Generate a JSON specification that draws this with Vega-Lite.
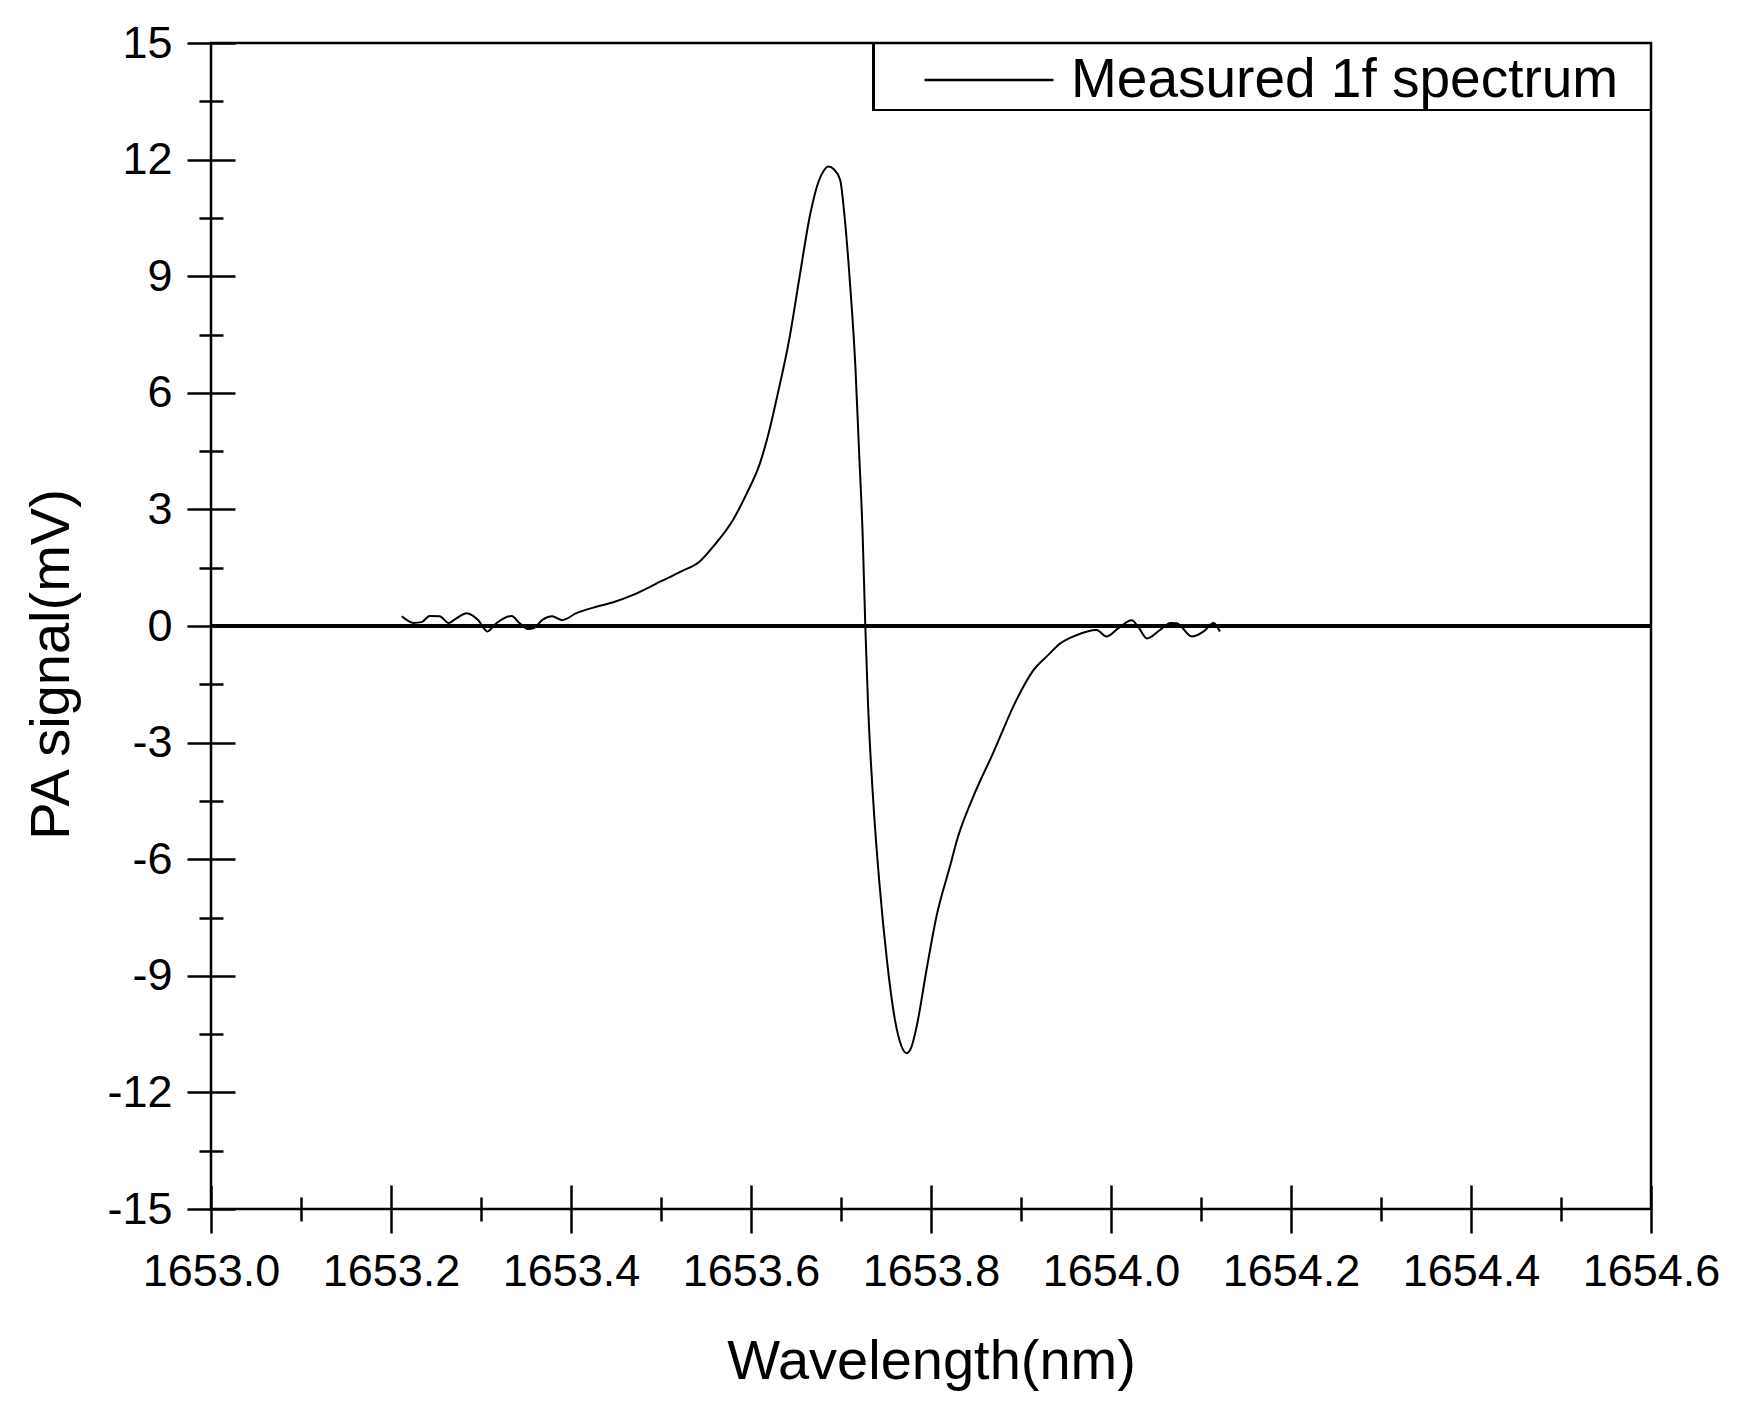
{
  "$schema": "https://vega.github.io/schema/vega-lite/v6.json",
  "width": 1440,
  "height": 1166,
  "autosize": {"type": "none"},
  "padding": {"left": 211, "top": 43, "right": 90, "bottom": 215},
  "background": "white",
  "config": {
    "view": {"stroke": "black", "strokeWidth": 2.5},
    "font": "Liberation Sans",
    "axis": {"grid": false, "labelColor": "black", "titleColor": "black", "tickColor": "black", "domainColor": "black"}
  },
  "data": {
    "values": [
      {"wavelength": 1653.212, "signal": 0.25},
      {"wavelength": 1653.225, "signal": 0.08},
      {"wavelength": 1653.234, "signal": 0.10},
      {"wavelength": 1653.243, "signal": 0.26},
      {"wavelength": 1653.254, "signal": 0.25},
      {"wavelength": 1653.264, "signal": 0.08},
      {"wavelength": 1653.271, "signal": 0.17},
      {"wavelength": 1653.284, "signal": 0.33},
      {"wavelength": 1653.297, "signal": 0.15},
      {"wavelength": 1653.307, "signal": -0.14},
      {"wavelength": 1653.317, "signal": 0.07},
      {"wavelength": 1653.334, "signal": 0.26},
      {"wavelength": 1653.343, "signal": 0.07},
      {"wavelength": 1653.353, "signal": -0.08},
      {"wavelength": 1653.358, "signal": -0.06},
      {"wavelength": 1653.369, "signal": 0.17},
      {"wavelength": 1653.379, "signal": 0.25},
      {"wavelength": 1653.390, "signal": 0.15},
      {"wavelength": 1653.406, "signal": 0.33},
      {"wavelength": 1653.429, "signal": 0.50},
      {"wavelength": 1653.447, "signal": 0.61},
      {"wavelength": 1653.469, "signal": 0.80},
      {"wavelength": 1653.499, "signal": 1.14},
      {"wavelength": 1653.522, "signal": 1.40},
      {"wavelength": 1653.543, "signal": 1.66},
      {"wavelength": 1653.560, "signal": 2.10},
      {"wavelength": 1653.580, "signal": 2.73},
      {"wavelength": 1653.595, "signal": 3.40},
      {"wavelength": 1653.610, "signal": 4.19},
      {"wavelength": 1653.620, "signal": 5.00},
      {"wavelength": 1653.629, "signal": 5.90},
      {"wavelength": 1653.643, "signal": 7.44},
      {"wavelength": 1653.654, "signal": 8.99},
      {"wavelength": 1653.666, "signal": 10.62},
      {"wavelength": 1653.675, "signal": 11.43},
      {"wavelength": 1653.681, "signal": 11.72},
      {"wavelength": 1653.686, "signal": 11.82},
      {"wavelength": 1653.692, "signal": 11.75},
      {"wavelength": 1653.699, "signal": 11.48},
      {"wavelength": 1653.704, "signal": 10.53},
      {"wavelength": 1653.710, "signal": 8.82},
      {"wavelength": 1653.716, "signal": 6.67},
      {"wavelength": 1653.720, "signal": 4.53},
      {"wavelength": 1653.724, "signal": 2.39},
      {"wavelength": 1653.727, "signal": 0.0},
      {"wavelength": 1653.730, "signal": -1.99},
      {"wavelength": 1653.736, "signal": -4.56},
      {"wavelength": 1653.743, "signal": -6.70},
      {"wavelength": 1653.751, "signal": -8.59},
      {"wavelength": 1653.760, "signal": -10.14},
      {"wavelength": 1653.767, "signal": -10.80},
      {"wavelength": 1653.773, "signal": -10.99},
      {"wavelength": 1653.778, "signal": -10.85},
      {"wavelength": 1653.784, "signal": -10.31},
      {"wavelength": 1653.795, "signal": -8.85},
      {"wavelength": 1653.806, "signal": -7.48},
      {"wavelength": 1653.821, "signal": -6.19},
      {"wavelength": 1653.829, "signal": -5.50},
      {"wavelength": 1653.847, "signal": -4.39},
      {"wavelength": 1653.869, "signal": -3.27},
      {"wavelength": 1653.895, "signal": -1.90},
      {"wavelength": 1653.914, "signal": -1.13},
      {"wavelength": 1653.930, "signal": -0.75},
      {"wavelength": 1653.943, "signal": -0.46},
      {"wavelength": 1653.960, "signal": -0.25},
      {"wavelength": 1653.984, "signal": -0.10},
      {"wavelength": 1653.995, "signal": -0.27},
      {"wavelength": 1654.008, "signal": -0.06},
      {"wavelength": 1654.023, "signal": 0.15},
      {"wavelength": 1654.031, "signal": -0.05},
      {"wavelength": 1654.040, "signal": -0.32},
      {"wavelength": 1654.054, "signal": -0.11},
      {"wavelength": 1654.066, "signal": 0.08},
      {"wavelength": 1654.073, "signal": 0.07},
      {"wavelength": 1654.090, "signal": -0.27},
      {"wavelength": 1654.103, "signal": -0.14},
      {"wavelength": 1654.114, "signal": 0.08},
      {"wavelength": 1654.121, "signal": -0.14}
    ]
  },
  "resolve": {
    "scale": {"x": "shared", "y": "shared"},
    "axis": {"x": "independent", "y": "independent"}
  },
  "layer": [
    {
      "mark": {"type": "line", "strokeWidth": 2, "interpolate": "monotone"},
      "encoding": {
        "x": {
          "field": "wavelength", "type": "quantitative",
          "scale": {"domain": [1653.0, 1654.6], "nice": false, "zero": false},
          "axis": {
            "orient": "bottom", "offset": -24, "domain": false,
            "values": [1653.0, 1653.2, 1653.4, 1653.6, 1653.8, 1654.0, 1654.2, 1654.4, 1654.6],
            "format": ".1f", "tickSize": 48, "tickWidth": 2.5,
            "labelFontSize": 45, "labelPadding": 52, "labelBaseline": "alphabetic",
            "labelFlush": false, "labelOverlap": false,
            "title": "Wavelength(nm)", "titleFontSize": 56, "titleFontWeight": "normal",
            "titleY": 193, "titleBaseline": "alphabetic"
          }
        },
        "y": {
          "field": "signal", "type": "quantitative",
          "scale": {"domain": [-15, 15], "nice": false, "zero": false},
          "axis": {
            "orient": "left", "offset": -24, "domain": false,
            "values": [-15, -12, -9, -6, -3, 0, 3, 6, 9, 12, 15],
            "labelExpr": "replace(datum.label, '\u2212', '-')",
            "tickSize": 48, "tickWidth": 2.5,
            "labelFontSize": 45, "labelPadding": 15, "labelBaseline": "middle",
            "labelFlush": false, "labelOverlap": false,
            "title": "PA signal(mV)", "titleFontSize": 56, "titleFontWeight": "normal",
            "titleX": -167, "titleY": 621, "titleBaseline": "alphabetic", "titleAlign": "center"
          }
        },
        "color": {
          "datum": "Measured 1f spectrum",
          "scale": {"range": ["black"]},
          "legend": {
            "orient": "none", "legendX": 712, "legendY": 17,
            "title": null, "padding": 0, "clipHeight": 40,
            "symbolType": "stroke", "symbolSize": 16641, "symbolStrokeWidth": 2.5,
            "symbolStrokeColor": "black",
            "labelFontSize": 55, "labelFont": "Liberation Sans", "labelColor": "black",
            "labelOffset": 16, "labelBaseline": "middle", "labelLimit": 800
          }
        }
      }
    },
    {
      "mark": {"type": "rule", "color": "black", "strokeWidth": 2.5},
      "encoding": {
        "y": {
          "datum": 0, "type": "quantitative",
          "axis": {
            "orient": "left", "offset": -12, "domain": false, "labels": false, "title": null,
            "values": [-13.5, -10.5, -7.5, -4.5, -1.5, 1.5, 4.5, 7.5, 10.5, 13.5],
            "tickSize": 24, "tickWidth": 2.5
          }
        }
      }
    },
    {
      "mark": {"type": "rect", "fill": null, "stroke": "black", "strokeWidth": 2},
      "encoding": {
        "x": {
          "datum": 1653.7356, "type": "quantitative",
          "axis": {
            "orient": "bottom", "offset": -12, "domain": false, "labels": false, "title": null,
            "values": [1653.1, 1653.3, 1653.5, 1653.7, 1653.9, 1654.1, 1654.3, 1654.5],
            "tickSize": 24, "tickWidth": 2.5
          }
        },
        "x2": {"datum": 1654.6},
        "y": {"datum": 15, "type": "quantitative", "axis": null},
        "y2": {"datum": 13.276}
      }
    }
  ]
}
